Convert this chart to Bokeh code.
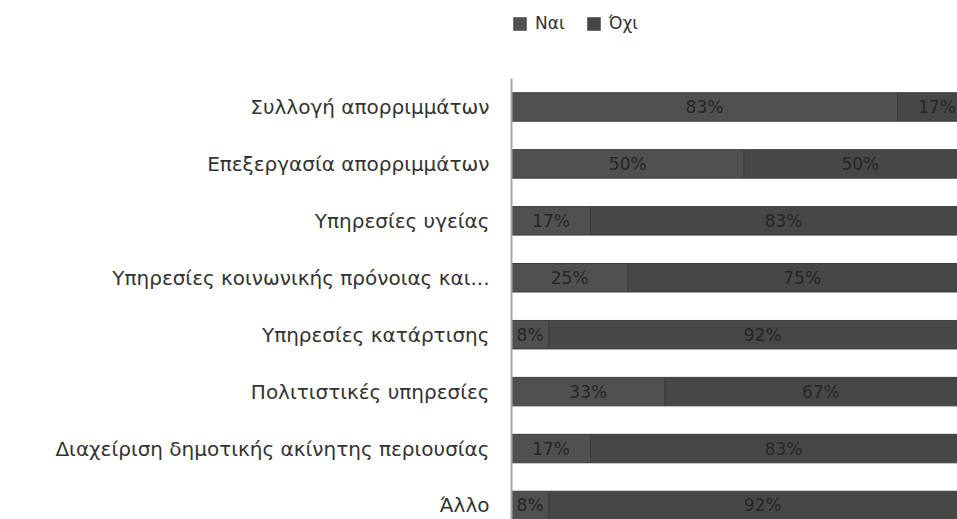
from bokeh.plotting import figure
from bokeh.layouts import column
from bokeh.models import (Range1d, FixedTicker, Legend, LegendItem, ColumnDataSource)
from bokeh.core.properties import value
from bokeh.embed import file_html
from bokeh.resources import INLINE

categories = [
    "Συλλογή απορριμμάτων",
    "Επεξεργασία απορριμμάτων",
    "Υπηρεσίες υγείας",
    "Υπηρεσίες κοινωνικής πρόνοιας και...",
    "Υπηρεσίες κατάρτισης",
    "Πολιτιστικές υπηρεσίες",
    "Διαχείριση δημοτικής ακίνητης περιουσίας",
    "Άλλο",
]
nai = [83, 50, 17, 25, 8, 33, 17, 8]
oxi = [17, 50, 83, 75, 92, 67, 83, 92]
series_names = ["Ναι", "Όχι"]

FONT = "DejaVu Sans"
C_NAI = "#505050"
C_OXI = "#474747"
TXT = "#333333"

ys = list(range(len(categories)))
nai_f = [a / (a + b) for a, b in zip(nai, oxi)]
oxi_f = [b / (a + b) for a, b in zip(nai, oxi)]
oxi_right = [a + b for a, b in zip(nai_f, oxi_f)]

src = ColumnDataSource(dict(
    y=ys, nai_r=nai_f, oxi_l=nai_f, oxi_r=oxi_right,
    nai_x=[v / 2 for v in nai_f],
    oxi_x=[l + v / 2 for l, v in zip(nai_f, oxi_f)],
    nai_t=[f"{v}%" for v in nai],
    oxi_t=[f"{v}%" for v in oxi],
))

# ---- main chart ----
p = figure(width=957, height=441, output_backend="svg", toolbar_location=None,
           x_range=Range1d(0, 0.959), y_range=Range1d(7.246, -0.5),
           min_border_left=511, min_border_right=0, min_border_top=0,
           min_border_bottom=0, background_fill_color="white",
           border_fill_color="white")
p.outline_line_color = None
p.grid.visible = False
p.xaxis.visible = False

p.hbar(y="y", left=0, right="nai_r", height=0.5, source=src,
       fill_color=C_NAI, line_color="#3c3c3c", line_width=1)
p.hbar(y="y", left="oxi_l", right="oxi_r", height=0.5, source=src,
       fill_color=C_OXI, line_color="#3c3c3c", line_width=1)

for xcol, tcol in (("nai_x", "nai_t"), ("oxi_x", "oxi_t")):
    p.text(x=xcol, y="y", text=tcol, source=src, text_align="center",
           text_baseline="middle", text_font=value(FONT),
           text_font_size="17px", text_color="#262626")

ax = p.yaxis[0]
ax.ticker = FixedTicker(ticks=ys)
ax.major_label_overrides = {i: c for i, c in zip(ys, categories)}
ax.major_tick_line_color = None
ax.minor_tick_line_color = None
ax.major_tick_out = 0
ax.major_tick_in = 0
ax.major_label_standoff = 22
ax.axis_line_color = "#a8a8a8"
ax.axis_line_width = 2
ax.major_label_text_font = FONT
ax.major_label_text_font_size = "20px"
ax.major_label_text_color = TXT

# ---- legend strip ----
lg = figure(width=957, height=78, output_backend="svg", toolbar_location=None,
            x_range=Range1d(0, 1), y_range=Range1d(0, 1),
            min_border_left=511, min_border_right=0, min_border_top=0,
            min_border_bottom=0, background_fill_color="white",
            border_fill_color="white")
lg.outline_line_color = None
lg.grid.visible = False
lg.axis.visible = False
k1 = lg.hbar(y="y", left=0, right="nai_r", height=0.5, source=src,
             fill_color=C_NAI, line_color=None, visible=False)
k2 = lg.hbar(y="y", left="oxi_l", right="oxi_r", height=0.5, source=src,
             fill_color=C_OXI, line_color=None, visible=False)
legend = Legend(items=[LegendItem(label=series_names[0], renderers=[k1]),
                       LegendItem(label=series_names[1], renderers=[k2])],
                orientation="horizontal", location=(0, 45),
                glyph_width=17, glyph_height=17, label_standoff=7, spacing=20,
                padding=0, margin=0, border_line_color=None,
                background_fill_alpha=0, inactive_fill_alpha=0,
                label_text_font=FONT, label_text_font_size="17px",
                label_text_color=TXT)
lg.add_layout(legend, "center")

open("out.html", "w").write(file_html(column(lg, p, spacing=0), INLINE))
